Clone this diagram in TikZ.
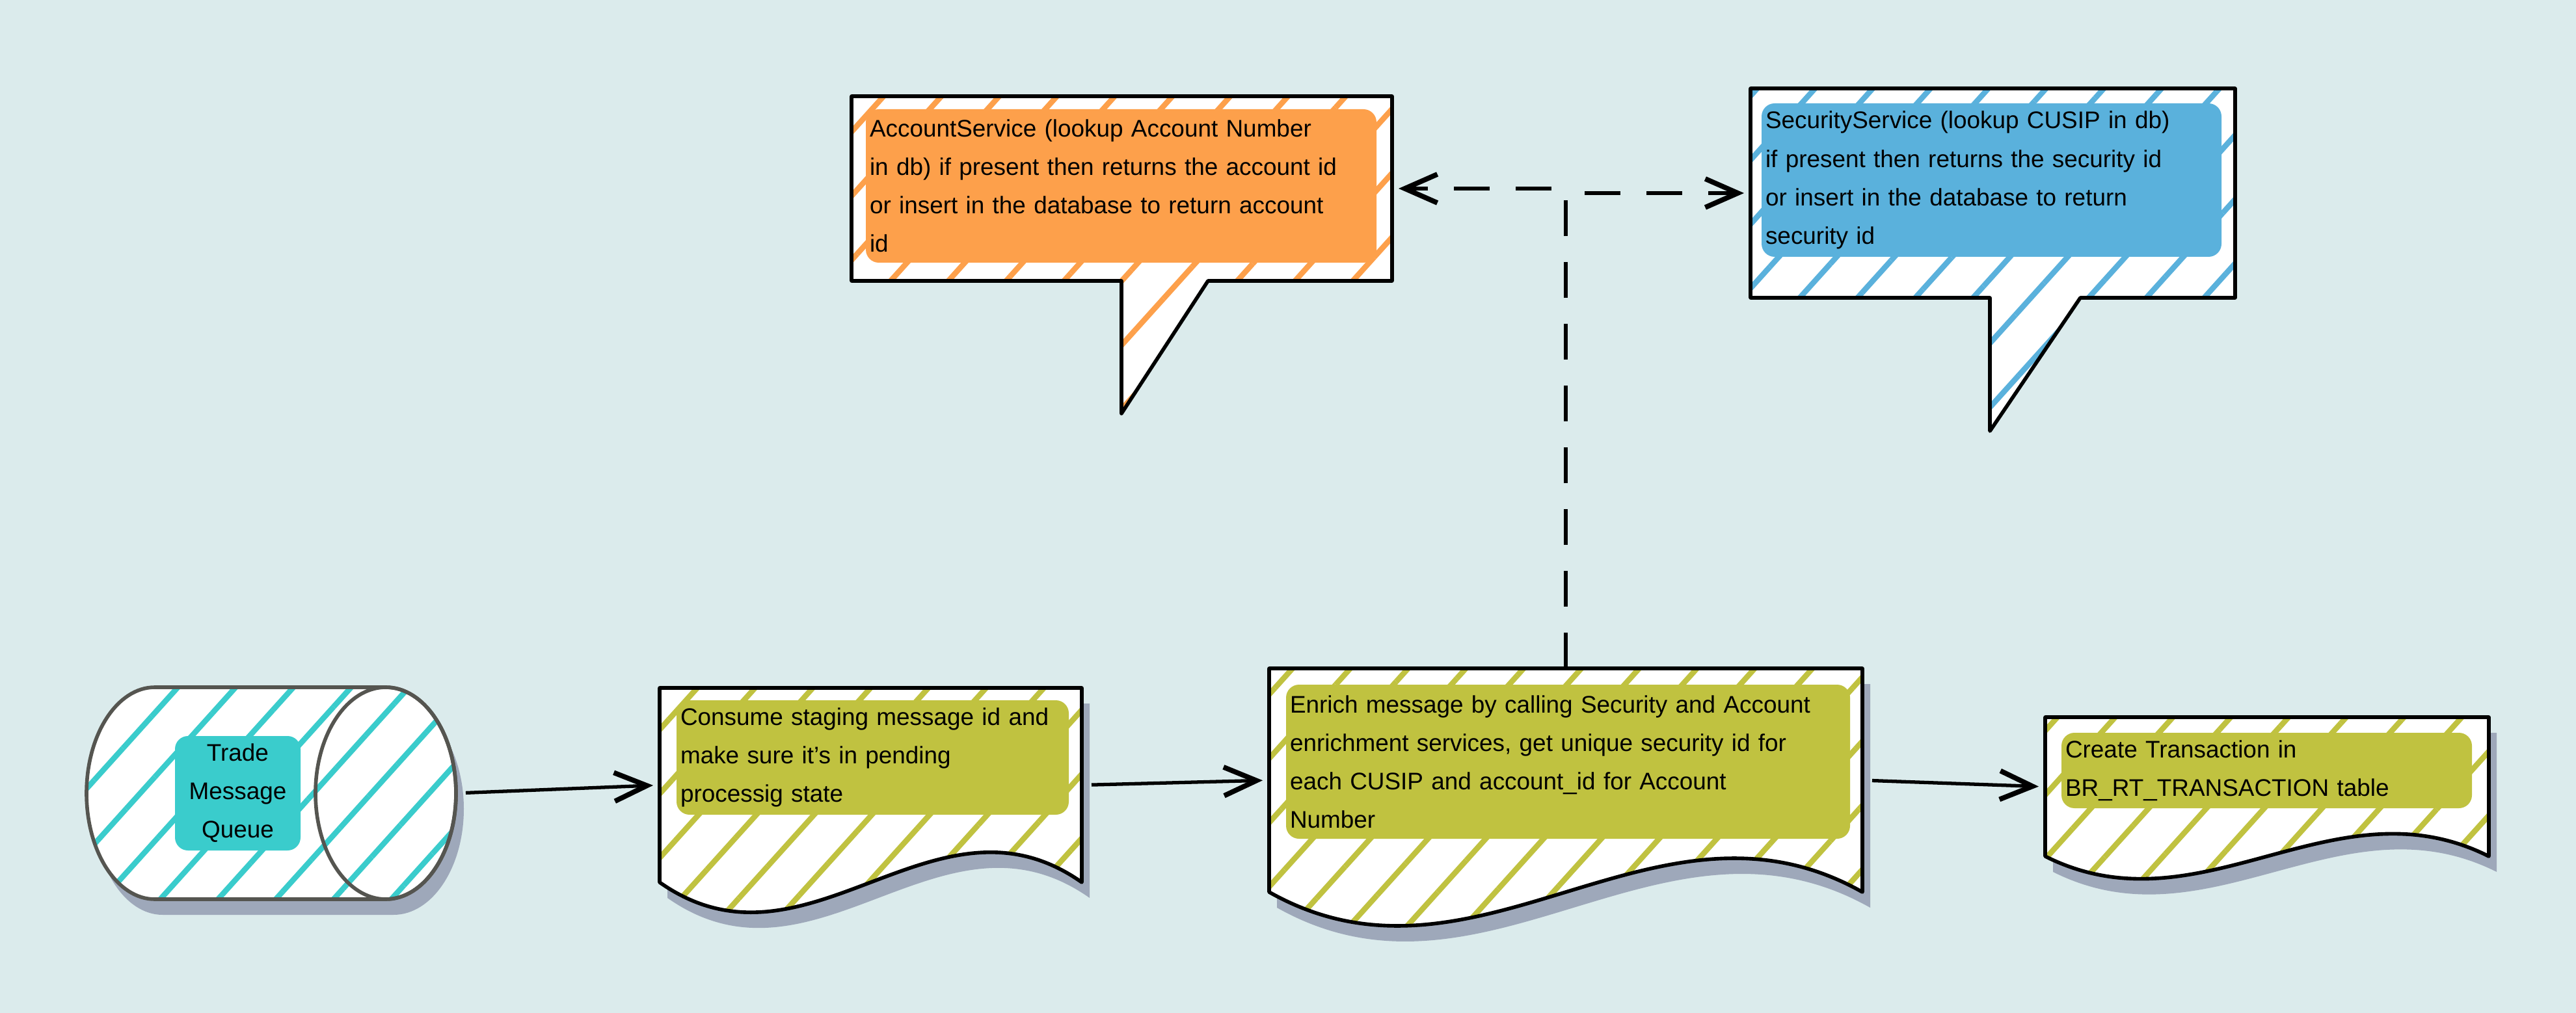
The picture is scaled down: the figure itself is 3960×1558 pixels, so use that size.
\documentclass[tikz,border=0pt]{standalone}
\usepackage{fontspec}
\setmainfont{Liberation Sans}
\usepackage{tikz}
\usetikzlibrary{patterns.meta}
\usetikzlibrary{shadows}
\usetikzlibrary{arrows.meta}
\definecolor{bgcolor}{RGB}{219,235,236}
\definecolor{queuecolor}{RGB}{58,204,204}
\definecolor{queueline}{RGB}{85,85,80}
\definecolor{stepcolor}{RGB}{192,194,64}
\definecolor{acctcolor}{RGB}{253,160,75}
\definecolor{seccolor}{RGB}{90,177,220}
\definecolor{shadowcolor}{RGB}{158,168,186}
\tikzset{hatched/.style={preaction={fill=white},
                         preaction={pattern={Lines[angle=48, distance=6.6mm, line width=0.85mm]}, pattern color=#1}}}
\tikzstyle{shadowed}=[drop shadow={shadow xshift=1.2mm, shadow yshift=-2.4mm, fill=shadowcolor, opacity=1}]
\tikzstyle{sketch}=[draw=black, line width=1.6pt, line join=round]
\tikzstyle{queueline}=[draw=queueline, line width=1.6pt, line join=round]
\tikzstyle{frame}=[inner sep=0, outer sep=0]
\tikzstyle{infobox}=[rounded corners=2mm, inner xsep=0.6mm, inner ysep=0, align=left,
                     font=\fontsize{10.5}{16.8}\selectfont]
\tikzstyle{flow}=[line width=1.5pt, -{Straight Barb[length=5mm, width=4.4mm, line width=2.2pt]},
                  shorten >=1mm, shorten <=1.5mm]
\tikzstyle{servicecall}=[flow, dash pattern=on 5.5mm off 4mm, shorten <=0pt]

\begin{document}
\begin{tikzpicture}[x=0.1mm, y=-0.1mm]
        \fill[bgcolor] (0,0) rectangle (3960,1558);
        \useasboundingbox (0,0) rectangle (3960,1558);
        % services
        \node[frame, minimum width=83.1mm, minimum height=28.4mm] (acct) at (1724.5,290) {};
        \node[frame, minimum width=74.5mm, minimum height=32.2mm] (sec) at (3063.5,297) {};
        \path[sketch, hatched=acctcolor] (acct.north west) -- (acct.south west) -- ++(415,0) -- ++(0,204)
            -- ++(133,-204) -- (acct.south east) -- (acct.north east) -- cycle;
        \path[sketch, hatched=seccolor] (sec.north west) -- (sec.south west) -- ++(368,0) -- ++(0,205)
            -- ++(139,-205) -- (sec.south east) -- (sec.north east) -- cycle;
        \node[infobox, fill=acctcolor, text width=77.3mm, minimum height=23.6mm] (accttext) at (1723.5,286)
            {AccountService (lookup Account Number\\in db) if present then returns the account id\\or insert in the database to return account\\id};
        \node[infobox, fill=seccolor, text width=69.5mm, minimum height=23.6mm] (sectext) at (3061.5,277)
            {SecurityService (lookup CUSIP in db)\\if present then returns the security id\\or insert in the database to return\\security id};
        % queue
        \node[frame, minimum width=56.8mm, minimum height=32.6mm] (queue) at (417,1220) {};
        \path[queueline, shadowed, hatched=queuecolor] ([xshift=10.5mm]queue.north west) -- ([xshift=-10.8mm]queue.north east)
            arc[start angle=90, end angle=-90, x radius=10.8mm, y radius=16.3mm] -- ([xshift=10.5mm]queue.south west)
            arc[start angle=270, end angle=90, x radius=10.5mm, y radius=16.3mm] -- cycle;
        \draw[queueline] ([xshift=-10.8mm]queue.east) ellipse [x radius=10.8mm, y radius=16.3mm];
        \node[infobox, fill=queuecolor, align=center, text width=18.1mm, minimum height=17.6mm] (queuetext) at (365.5,1220)
            {Trade\\Message\\Queue};
        % steps
        \node[frame, minimum width=64.9mm, minimum height=29.9mm] (consume) at (1338.5,1207.5) {};
        \node[frame, minimum width=91.2mm, minimum height=34.4mm] (enrich) at (2407,1200) {};
        \node[frame, minimum width=68.2mm, minimum height=21.4mm] (create) at (3485,1210) {};
        \path[sketch, shadowed, hatched=stepcolor] (consume.north west) -- (consume.south west)
            .. controls +(227,160) and +(-227,-160) .. (consume.south east) -- (consume.north east) -- cycle;
        \path[sketch, shadowed, hatched=stepcolor] (enrich.north west) -- (enrich.south west)
            .. controls +(319,180) and +(-319,-180) .. (enrich.south east) -- (enrich.north east) -- cycle;
        \path[sketch, shadowed, hatched=stepcolor] (create.north west) -- (create.south west)
            .. controls +(239,120) and +(-239,-120) .. (create.south east) -- (create.north east) -- cycle;
        \node[infobox, fill=stepcolor, text width=59.1mm, minimum height=17.6mm] (consumetext) at (1341.5,1165)
            {Consume staging message id and\\make sure it's in pending\\processig state};
        \node[infobox, fill=stepcolor, text width=85.5mm, minimum height=23.7mm] (enrichtext) at (2410.5,1171.5)
            {Enrich message by calling Security and Account\\enrichment services, get unique security id for\\each CUSIP and account\_id for Account\\Number};
        \node[infobox, fill=stepcolor, text width=61.9mm, minimum height=11.6mm] (createtext) at (3484.5,1185)
            {Create Transaction in\\BR\_RT\_TRANSACTION table};
        % connectors
        \draw[flow] (queue.east) -- (consume.west);
        \draw[flow] (consume.east) -- (enrich.west);
        \draw[flow] (enrich.east) -- (create.west);
        \draw[servicecall] (enrich.north) |- (acct.east);
        \draw[servicecall] (enrich.north) |- (sec.west);
\end{tikzpicture}
\end{document}
